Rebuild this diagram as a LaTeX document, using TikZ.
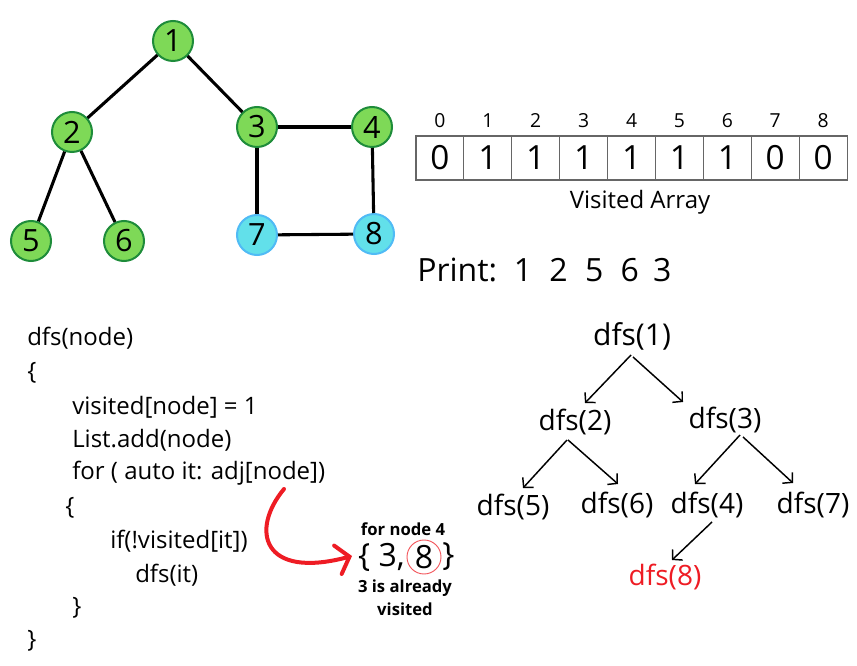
\documentclass[tikz,border=0pt]{standalone}
\usepackage{fontspec}
\setmainfont{Open Sans}
\usetikzlibrary{arrows.meta}
\definecolor{gfill}{HTML}{7ED957}
\definecolor{gdraw}{HTML}{1E8C3A}
\definecolor{cfill}{HTML}{62E0EA}
\definecolor{cdraw}{HTML}{50BBF5}
\definecolor{redc}{HTML}{EE1C24}
\tikzset{
  gnode/.style={circle,draw=gdraw,fill=gfill,line width=1.5pt,minimum size=30pt,inner sep=0pt,font=\fontsize{23}{23}\selectfont},
  cnode/.style={gnode,draw=cdraw,fill=cfill},
  gedge/.style={line width=2.3pt,black},
  cell/.style={draw=gray!80!black,line width=0.8pt,minimum width=35.9pt,minimum height=33pt,inner sep=0pt,font=\fontsize{25}{25}\selectfont},
  idx/.style={font=\fontsize{14.5}{14.5}\selectfont,inner sep=0pt},
  codeline/.style={anchor=west,inner sep=0pt,font=\fontsize{18}{18}\selectfont},
  call/.style={inner sep=1pt,font=\fontsize{21}{21}\selectfont},
  tarrow/.style={line width=1.1pt,-{Straight Barb[length=5pt,width=11pt]}},
  notebf/.style={inner sep=0pt,font=\bfseries\fontsize{12.5}{12.5}\selectfont},
}
\begin{document}
\begin{tikzpicture}[x=0.75pt,y=-0.75pt]
\useasboundingbox (0,0) rectangle (857,666);
% graph
\node[gnode] (n1) at (173,41) {1};
\node[gnode] (n2) at (72,132) {2};
\node[gnode] (n3) at (257,127) {3};
\node[gnode] (n4) at (372,127) {4};
\node[gnode] (n5) at (31,241) {5};
\node[gnode] (n6) at (124,241) {6};
\node[cnode] (n7) at (257,235) {7};
\node[cnode] (n8) at (374,234) {8};
\draw[gedge] (n1) -- (n2);
\draw[gedge] (n1) -- (n3);
\draw[gedge] (n2) -- (n5);
\draw[gedge] (n2) -- (n6);
\draw[gedge] (n3) -- (n4);
\draw[gedge] (n3) -- (n7);
\draw[gedge] (n4) -- (n8);
\draw[gedge] (n7) -- (n8);
% visited array
\foreach \v [count=\i from 0] in {0,1,1,1,1,1,1,0,0} {
  \node[cell] (c\i) at ({416+47.9*\i+23.95},158) {\v};
  \node[idx] (i\i) at ({416+47.9*\i+23.95},121) {\i};
}
\node[inner sep=0pt,font=\fontsize{18}{18}\selectfont] (vlab) at (640,202) {Visited Array};
\node[anchor=west,inner sep=0pt,font=\fontsize{24}{24}\selectfont] (print) at (417,270) {Print:\hspace{12.5pt}1\hspace{13pt}2\hspace{13pt}5\hspace{13pt}6\hspace{10.5pt}3};
% code
\node[codeline] (l1) at (27,338) {dfs(node)};
\node[codeline] (l2) at (27,373) {\{};
\node[codeline] (l3) at (72,407) {visited[node] = 1};
\node[codeline] (l4) at (72,440) {List.add(node)};
\node[codeline] (l5) at (72,473) {for ( auto it: adj[node])};
\node[codeline] (l6) at (65,508) {\{};
\node[codeline] (l7) at (110,541) {if(!visited[it])};
\node[codeline] (l8) at (135,575) {dfs(it)};
\node[codeline] (l9) at (72,608) {\}};
\node[codeline] (l10) at (27,641) {\}};
% red arrow
\coordinate (rs) at (284,489);
\coordinate (re) at (352,556);
\draw[redc,line width=3pt,line cap=round,-{Straight Barb[length=9pt,width=22pt,line cap=round]}] (rs) .. controls (250,530) and (262,580) .. (re);
% adjacency note
\node[notebf] (fn4) at (403,529) {for node 4};
\node[inner sep=0pt,anchor=east,font=\fontsize{24}{24}\selectfont] (adjL) at (405,557) {\{ 3,};
\node[circle,draw=redc!75,line width=0.7pt,minimum size=25.5pt,inner sep=0pt,font=\fontsize{24}{24}\selectfont] (adj8) at (424,557) {8};
\node[inner sep=0pt,anchor=west,font=\fontsize{24}{24}\selectfont] (adjR) at (442,557) {\}};
\node[notebf] (al1) at (405,588) {3 is already};
\node[notebf] (al2) at (405,609) {visited};
% recursion tree
\node[call,font=\fontsize{22.5}{22.5}\selectfont] (d1) at (632,336) {dfs(1)};
\node[call] (d2) at (575,422) {dfs(2)};
\node[call] (d3) at (725,420) {dfs(3)};
\node[call] (d5) at (513,507) {dfs(5)};
\node[call] (d6) at (617,505) {dfs(6)};
\node[call] (d4) at (707,505) {dfs(4)};
\node[call] (d7) at (813,505) {dfs(7)};
\node[call,text=redc] (d8) at (665,577) {dfs(8)};
\draw[tarrow] ([shift={(-1,19)}]d1.center) -- ([shift={(10,-19)}]d2.center);
\draw[tarrow] ([shift={(1,21)}]d1.center) -- ([shift={(-42,-18)}]d3.center);
\draw[tarrow] ([shift={(-8,18)}]d2.center) -- ([shift={(10,-19)}]d5.center);
\draw[tarrow] ([shift={(-7,18)}]d2.center) -- ([shift={(1,-21)}]d6.center);
\draw[tarrow] ([shift={(15,15)}]d3.center) -- ([shift={(-12,-21)}]d4.center);
\draw[tarrow] ([shift={(18,17)}]d3.center) -- ([shift={(-20,-22)}]d7.center);
\draw[tarrow] ([shift={(5,17)}]d4.center) -- ([shift={(7,-17)}]d8.center);
\end{tikzpicture}
\end{document}
